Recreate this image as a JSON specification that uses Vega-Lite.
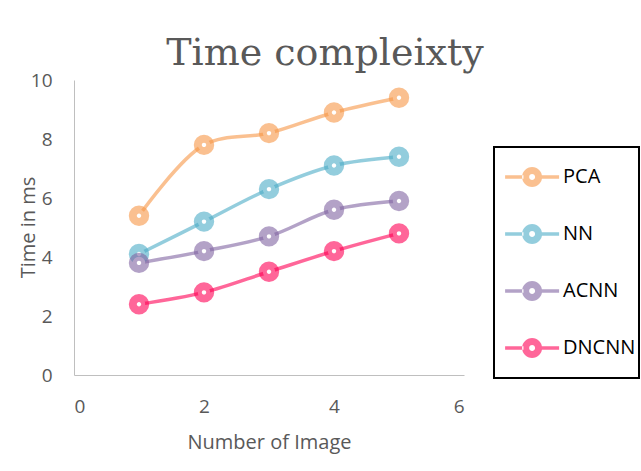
{
  "$schema": "https://vega.github.io/schema/vega-lite/v6.json",
  "autosize": {"type": "none"},
  "width": 390,
  "height": 295,
  "padding": {"left": 74, "top": 80, "right": 177, "bottom": 96},
  "background": "white",
  "title": {
    "text": "Time compleixty",
    "font": "DejaVu Serif",
    "fontSize": 38,
    "fontWeight": "normal",
    "color": "#595959",
    "anchor": "middle",
    "frame": "group",
    "dx": 56,
    "dy": 44,
    "baseline": "alphabetic",
    "offset": 12
  },
  "data": {
    "values": [
      {"n": 1, "method": "PCA", "t": 5.4},
      {"n": 2, "method": "PCA", "t": 7.8},
      {"n": 3, "method": "PCA", "t": 8.2},
      {"n": 4, "method": "PCA", "t": 8.9},
      {"n": 5, "method": "PCA", "t": 9.4},
      {"n": 1, "method": "NN", "t": 4.1},
      {"n": 2, "method": "NN", "t": 5.2},
      {"n": 3, "method": "NN", "t": 6.3},
      {"n": 4, "method": "NN", "t": 7.1},
      {"n": 5, "method": "NN", "t": 7.4},
      {"n": 1, "method": "ACNN", "t": 3.8},
      {"n": 2, "method": "ACNN", "t": 4.2},
      {"n": 3, "method": "ACNN", "t": 4.7},
      {"n": 4, "method": "ACNN", "t": 5.6},
      {"n": 5, "method": "ACNN", "t": 5.9},
      {"n": 1, "method": "DNCNN", "t": 2.4},
      {"n": 2, "method": "DNCNN", "t": 2.8},
      {"n": 3, "method": "DNCNN", "t": 3.5},
      {"n": 4, "method": "DNCNN", "t": 4.2},
      {"n": 5, "method": "DNCNN", "t": 4.8}
    ]
  },
  "encoding": {
    "x": {
      "field": "n", "type": "quantitative",
      "scale": {"domain": [0, 6], "nice": false, "zero": false},
      "axis": {
        "title": "Number of Image",
        "values": [0, 2, 4, 6],
        "titleY": 67,
        "titleBaseline": "middle"
      }
    },
    "y": {
      "field": "t", "type": "quantitative",
      "scale": {"domain": [0, 10], "nice": false},
      "axis": {
        "title": "Time in ms",
        "values": [0, 2, 4, 6, 8, 10],
        "titleX": -46,
        "titleY": 147,
        "titleBaseline": "middle",
        "titleAlign": "center"
      }
    },
    "color": {
      "field": "method", "type": "nominal",
      "scale": {
        "domain": ["PCA", "NN", "ACNN", "DNCNN"],
        "range": ["#F79646", "#4BACC6", "#8064A2", "#FF0055"]
      },
      "legend": {
        "orient": "none",
        "legendX": 420,
        "legendY": 67,
        "title": null,
        "padding": 3,
        "rowPadding": 3,
        "strokeColor": "#000000",
        "symbolType": "M0.3,-1 L0.3,-1 M0.3,1 L0.3,1 M-0.02,-0.065 H-0.7 V0.065 H-0.02 Z M-0.07,0 A0.37,0.37 0 1,1 0.67,0 A0.37,0.37 0 1,1 -0.07,0 Z M0.19,0 A0.11,0.11 0 1,0 0.41,0 A0.11,0.11 0 1,0 0.19,0 Z M0.62,-0.065 H1.3 V0.065 H0.62 Z",
        "symbolSize": 2916,
        "symbolOpacity": 1,
        "symbolStrokeWidth": 0,
        "labelOffset": 12,
        "labelFont": "Open Sans",
        "labelFontSize": 20,
        "labelColor": "#000000",
        "encode": {
          "symbols": {"update": {"fill": {"scale": "color", "field": "value"}, "fillOpacity": {"value": 0.6}, "opacity": {"value": 1}}},
          "legend": {"update": {"strokeWidth": {"value": 2}}}
        }
      }
    }
  },
  "layer": [
    {
      "mark": {"type": "line", "interpolate": "catmull-rom", "strokeWidth": 3.5, "opacity": 0.6}
    },
    {
      "mark": {"type": "point", "shape": "circle", "filled": false, "fill": "white", "fillOpacity": 1, "strokeOpacity": 0.6, "strokeWidth": 8, "size": 154, "opacity": 1},
      "encoding": {
        "stroke": {"field": "method", "type": "nominal", "scale": {"domain": ["PCA", "NN", "ACNN", "DNCNN"], "range": ["#F79646", "#4BACC6", "#8064A2", "#FF0055"]}, "legend": null}
      }
    }
  ],
  "config": {
    "view": {"stroke": null},
    "axis": {
      "grid": false,
      "ticks": false,
      "tickSize": 0,
      "domainColor": "#BFBFBF",
      "domainWidth": 1,
      "labelFont": "Open Sans",
      "labelFontSize": 19,
      "labelColor": "#595959",
      "titleFont": "Open Sans",
      "titleFontSize": 20,
      "titleFontWeight": "normal",
      "titleColor": "#595959"
    },
    "axisY": {"labelPadding": 22},
    "axisX": {"labelPadding": 22}
  }
}
